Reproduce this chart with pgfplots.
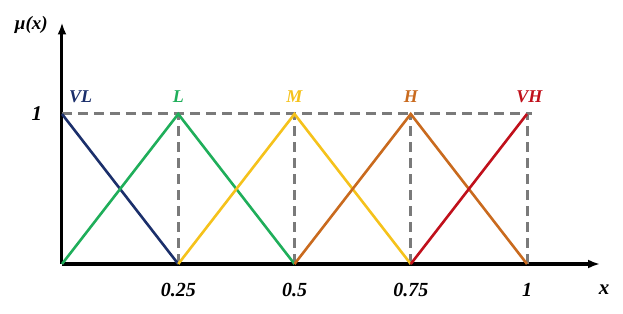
\documentclass[border=0pt]{standalone}
\usepackage{fontspec}
\setmainfont{Liberation Serif}
\usepackage{pgfplots}
\pgfplotsset{compat=1.18}
\usetikzlibrary{arrows.meta}
\definecolor{cVL}{HTML}{1B2F6B}
\definecolor{cL}{HTML}{1FAE5A}
\definecolor{cM}{HTML}{F5C21B}
\definecolor{cH}{HTML}{C96A1E}
\definecolor{cVH}{HTML}{C0101B}
\definecolor{dgray}{HTML}{7A7A7A}
\begin{document}
\begin{tikzpicture}
\useasboundingbox (-62bp,-50bp) rectangle (561bp,264bp);
\begin{axis}[
  anchor=origin, at={(0,0)},
  x=465bp, y=150bp,
  xmin=0, xmax=1.157, ymin=0, ymax=1.61,
  axis lines=left,
  axis line style={line width=3bp, -{Latex[length=12bp,width=9bp]}},
  clip=false,
  major tick length=0pt,
  xtick={0.25,0.5,0.75,1}, xticklabels={0.25,0.5,0.75,1},
  ytick={1}, yticklabels={1},
  xticklabel style={font=\fontsize{20bp}{22bp}\selectfont\bfseries\itshape, anchor=center, yshift=-26bp},
  yticklabel style={font=\fontsize{21bp}{22bp}\selectfont\bfseries\itshape, anchor=center, xshift=-25bp},
  xlabel={x}, ylabel={μ(x)},
  every axis x label/.style={at={(axis cs:1.166,-0.173)}, anchor=center, font=\fontsize{21bp}{22bp}\selectfont\bfseries\itshape},
  every axis y label/.style={at={(axis cs:-0.066,1.593)}, anchor=center, font=\fontsize{19bp}{22bp}\selectfont\bfseries\itshape},
]
% dashed grey reference lines
\addplot[dgray, line width=3bp, dash pattern=on 10bp off 6bp] coordinates {(0,1) (1.01,1)};
\addplot[dgray, line width=3bp, dash pattern=on 10bp off 6bp] coordinates {(0.25,0) (0.25,1)};
\addplot[dgray, line width=3bp, dash pattern=on 10bp off 6bp] coordinates {(0.5,0) (0.5,1)};
\addplot[dgray, line width=3bp, dash pattern=on 10bp off 6bp] coordinates {(0.75,0) (0.75,1)};
\addplot[dgray, line width=3bp, dash pattern=on 10bp off 6bp] coordinates {(1,0) (1,1)};
% membership functions
\addplot[cVL, line width=2.6bp] coordinates {(0,1) (0.25,0)};
\addplot[cL, line width=2.6bp] coordinates {(0,0) (0.25,1) (0.5,0)};
\addplot[cM, line width=2.6bp] coordinates {(0.25,0) (0.5,1) (0.75,0)};
\addplot[cH, line width=2.6bp] coordinates {(0.5,0) (0.75,1) (1,0)};
\addplot[cVH, line width=2.6bp] coordinates {(0.75,0) (1,1)};
% labels
\node[cVL, font=\fontsize{18bp}{20bp}\selectfont\bfseries\itshape] at (axis cs:0.04,1.113) {VL};
\node[cL, font=\fontsize{18bp}{20bp}\selectfont\bfseries\itshape] at (axis cs:0.25,1.113) {L};
\node[cM, font=\fontsize{18bp}{20bp}\selectfont\bfseries\itshape] at (axis cs:0.5,1.113) {M};
\node[cH, font=\fontsize{18bp}{20bp}\selectfont\bfseries\itshape] at (axis cs:0.75,1.113) {H};
\node[cVH, font=\fontsize{18bp}{20bp}\selectfont\bfseries\itshape] at (axis cs:1.005,1.113) {VH};
\end{axis}
\end{tikzpicture}
\end{document}
